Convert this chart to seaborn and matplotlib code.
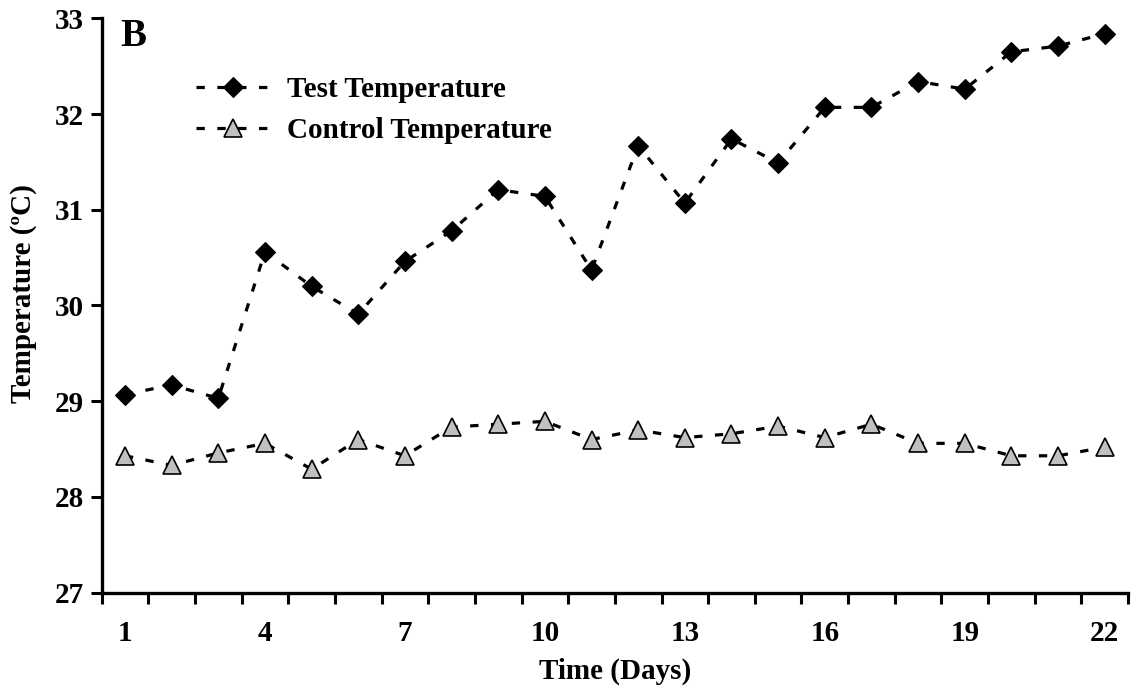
import matplotlib
matplotlib.use("Agg")
import matplotlib.pyplot as plt
import seaborn as sns
import numpy as np
import pandas as pd
from matplotlib.ticker import FixedLocator, NullFormatter

days = list(range(1, 23))
test_temp = [29.07, 29.17, 29.03, 30.56, 30.20, 29.91, 30.46, 30.78, 31.21, 31.14,
             30.37, 31.67, 31.07, 31.74, 31.49, 32.07, 32.07, 32.34, 32.26, 32.65,
             32.71, 32.84]
control_temp = [28.43, 28.33, 28.46, 28.56, 28.29, 28.60, 28.43, 28.73, 28.76, 28.79,
                28.60, 28.70, 28.62, 28.66, 28.74, 28.62, 28.76, 28.56, 28.56, 28.43,
                28.43, 28.52]
x_labels = [1, 4, 7, 10, 13, 16, 19, 22]
y_ticks = [27, 28, 29, 30, 31, 32, 33]

sns.set_style("white")
plt.rcParams["font.family"] = ["Liberation Serif", "DejaVu Serif"]
plt.rcParams["font.weight"] = "bold"
plt.rcParams["lines.scale_dashes"] = False
for k in ["text.color", "axes.labelcolor", "xtick.color", "ytick.color"]:
    plt.rcParams[k] = "black"

fig = plt.figure(figsize=(11.36, 6.94), dpi=100)
ax = fig.add_axes([0.0895, 0.146, 0.993 - 0.0895, 0.9736 - 0.146])

dash = (0, (6, 9))
sns.lineplot(x=days, y=test_temp, ax=ax, color="black", linewidth=2.3,
             linestyle=dash, marker="D", markersize=10.5,
             markerfacecolor="black", markeredgecolor="black",
             markeredgewidth=0.8, label="Test Temperature", errorbar=None)
sns.lineplot(x=days, y=control_temp, ax=ax, color="black", linewidth=2.3,
             linestyle=dash, marker="^", markersize=12.5,
             markerfacecolor="#c0c0c0", markeredgecolor="black",
             markeredgewidth=1.2, label="Control Temperature", errorbar=None)

ax.set_xlim(0.5, 22.5)
ax.set_ylim(27, 33)
ax.set_yticks(y_ticks)
ax.set_xticks(x_labels)
ax.xaxis.set_minor_locator(FixedLocator(np.arange(0.5, 23, 1)))
ax.xaxis.set_minor_formatter(NullFormatter())
ax.tick_params(axis="x", which="major", length=0, pad=20, labelsize=21)
ax.tick_params(axis="x", which="minor", length=8, width=2.2, direction="out",
               bottom=True, color="black")
ax.tick_params(axis="y", which="major", length=8, width=2.2, direction="out",
               left=True, labelsize=21, pad=5, color="black")
for lab in ax.get_xticklabels() + ax.get_yticklabels():
    lab.set_fontweight("bold")

for s in ["top", "right"]:
    ax.spines[s].set_visible(False)
for s in ["left", "bottom"]:
    ax.spines[s].set_linewidth(2.4)
    ax.spines[s].set_color("black")

ax.set_xlabel("Time (Days)", fontsize=21, fontweight="bold", labelpad=7)
ax.set_ylabel("Temperature (ºC)", fontsize=21, fontweight="bold")
ax.yaxis.set_label_coords(-0.063, 0.52)

ax.text(0.018, 1.0, "B", transform=ax.transAxes, fontsize=28,
        fontweight="bold", va="top", ha="left")

leg = ax.legend(loc="upper left", bbox_to_anchor=(0.092, 0.899), frameon=False,
                fontsize=21, handlelength=2.5, handletextpad=0.6,
                labelspacing=0.47, borderpad=0, borderaxespad=0)
for t in leg.get_texts():
    t.set_fontweight("bold")

fig.savefig("out.png", dpi=100)
